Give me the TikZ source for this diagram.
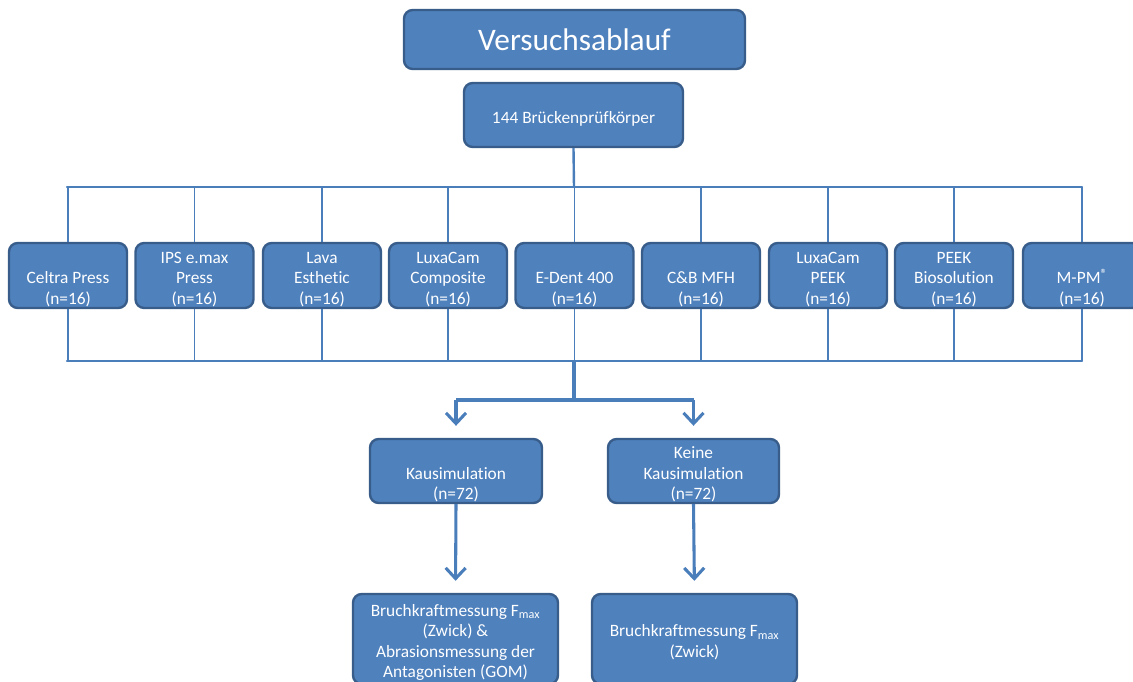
\documentclass[tikz,border=0pt]{standalone}
\usepackage{fontspec}
\setmainfont{Carlito}[Ligatures={NoCommon}]
\usetikzlibrary{arrows.meta}
\definecolor{boxfill}{HTML}{4F81BD}
\definecolor{boxline}{HTML}{385D8A}
\definecolor{conn}{HTML}{4A7EBB}
\newcommand{\regmark}{{\fontsize{10}{10}\selectfont\raisebox{0.35em}{\textregistered}}}
\newcommand{\bt}[1]{\raisebox{-3pt}[\height][\depth]{\begin{tabular}{@{}c@{}}#1\end{tabular}}}
\tikzset{
  box/.style={draw=boxline, line width=1.8pt, fill=boxfill, rounded corners=6.5pt,
    text=white, inner sep=0pt, font=\fontsize{13}{15.4}\selectfont},
  matbox/.style={box, minimum width=88.5pt, minimum height=48.75pt},
  thin conn/.style={draw=conn, line width=1.3pt},
  bus/.style={draw=conn, line width=1.8pt},
  arrowline/.style={draw=conn, line width=2.3pt, -{Straight Barb[length=8pt,width=15pt,line width=2.3pt]}, shorten >=9pt},
}
\begin{document}
\begin{tikzpicture}[x=0.75pt,y=-0.75pt]
\useasboundingbox (0,0) rectangle (1133,682);
% top boxes
\node[box, minimum width=255.75pt, minimum height=44.25pt, font=\fontsize{23.5}{28}\selectfont] (title) at (574.5,39.5) {Versuchsablauf};
\node[box, minimum width=164.25pt, minimum height=48pt] (total) at (573.5,115) {\bt{144 Brückenprüfkörper}};
% buses
\coordinate (tl) at (67,187);
\coordinate (tr) at (1082,187);
\coordinate (tm) at (574,187);
\coordinate (bl) at (67,361);
\coordinate (br) at (1082,361);
\coordinate (bm) at (574,361);
\coordinate (sm) at (574,400);
\coordinate (sl) at (456,400);
\coordinate (sr) at (693.5,400);
% material boxes
\node[matbox] (m1) at (68,275.5) {\bt{\mbox{}\\Celtra Press\\(n=16)}};
\node[matbox] (m2) at (194.5,275.5) {\bt{IPS e.max\\Press\\(n=16)}};
\node[matbox] (m3) at (322,275.5) {\bt{Lava\\Esthetic\\(n=16)}};
\node[matbox] (m4) at (448,275.5) {\bt{LuxaCam\\Composite\\(n=16)}};
\node[matbox] (m5) at (574.5,275.5) {\bt{\mbox{}\\E-Dent 400\\(n=16)}};
\node[matbox] (m6) at (701,275.5) {\bt{\mbox{}\\C\&B MFH\\(n=16)}};
\node[matbox] (m7) at (828,275.5) {\bt{LuxaCam\\PEEK\\(n=16)}};
\node[matbox] (m8) at (954,275.5) {\bt{PEEK\\Biosolution\\(n=16)}};
\node[matbox] (m9) at (1082,275.5) {\bt{\mbox{}\\M-PM\regmark\\(n=16)}};
% group boxes
\node[box, minimum width=129pt, minimum height=48pt] (kau) at (456,471) {\bt{\mbox{}\\Kausimulation\\(n=72)}};
\node[box, minimum width=128.25pt, minimum height=48pt] (keine) at (693.5,471) {\bt{Keine\\Kausimulation\\(n=72)}};
\node[box, minimum width=153.75pt, minimum height=67.5pt] (resl) at (455.5,639) {\bt{Bruchkraftmessung F\textsubscript{max}\\(Zwick) \&\\Abrasionsmessung der\\Antagonisten (GOM)}};
\node[box, minimum width=153.75pt, minimum height=67.5pt] (resr) at (694.5,639) {\bt{Bruchkraftmessung F\textsubscript{max}\\(Zwick)}};
% connectors
\draw[bus] (total.south) -- (tm);
\draw[bus, line cap=round] (tl) -- (tr);
\draw[bus, line cap=round] (bl) -- (br);
\foreach \m in {m1,m2,m3,m4,m5,m6,m7,m8,m9} {
  \draw[thin conn] (\m.north) -- (\m.north |- tl);
  \draw[thin conn] (\m.south) -- (\m.south |- bl);
}
\draw[draw=conn, line width=2.3pt] (bm) -- (sm);
\draw[draw=conn, line width=2.3pt] (sl) -- (sr);
\draw[arrowline] (sl) -- (kau.north);
\draw[arrowline] (sr) -- (keine.north);
\draw[arrowline] (kau.south) -- (resl.north);
\draw[arrowline] (keine.south) -- (resr.north);
\end{tikzpicture}
\end{document}
